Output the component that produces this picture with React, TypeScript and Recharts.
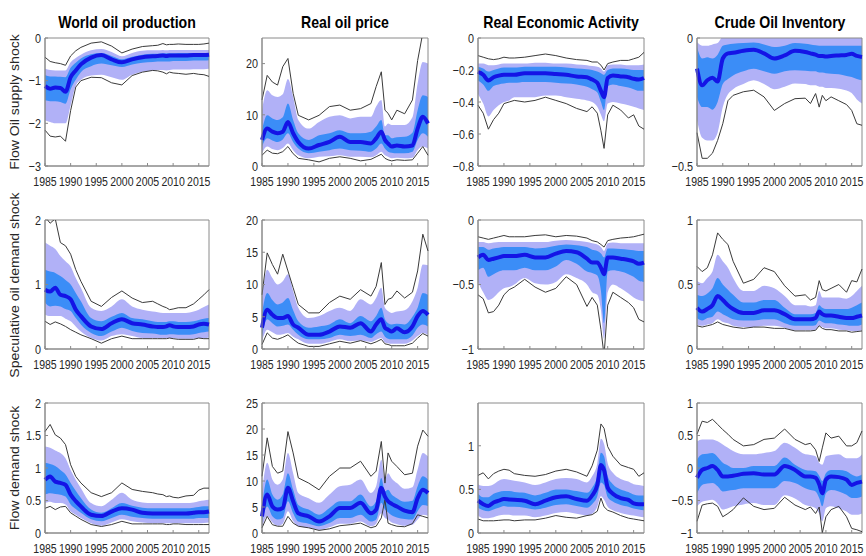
import { Area, ComposedChart, Line, ReferenceArea, XAxis, YAxis } from "recharts";

// sample dates (fractional years) shared by every panel
const years = [
  1985, 1986, 1987, 1988, 1989, 1990, 1991, 1992, 1994, 1996, 1998, 2000, 2002,
  2004, 2006, 2007, 2008, 2008.7, 2009.3, 2010, 2011, 2012.5, 2014, 2015, 2016, 2017,
];
const yearTicks = [1985, 1990, 1995, 2000, 2005, 2010, 2015];

const variables = ["World oil production", "Real oil price", "Real Economic Activity", "Crude Oil Inventory"];
const shocks = ["Flow Oil supply shock", "Speculative oil demand shock", "Flow demand shock"];

// each row: [lower bound, 90% low, 68% low, median, 68% high, 90% high, upper bound]
type Q = [number, number, number, number, number, number, number];

const supplyProduction: Q[] = [
  [-2.16, -1.93, -1.46, -1.13, -0.87, -0.72, -0.45],
  [-2.3, -1.97, -1.48, -1.19, -0.9, -0.75, -0.55],
  [-2.32, -2.0, -1.48, -1.16, -0.9, -0.76, -0.58],
  [-2.3, -2.0, -1.5, -1.17, -0.91, -0.76, -0.6],
  [-2.42, -2.0, -1.54, -1.26, -0.92, -0.76, -0.64],
  [-1.7, -1.58, -1.2, -0.92, -0.7, -0.57, -0.42],
  [-1.15, -1.12, -0.98, -0.76, -0.58, -0.47, -0.3],
  [-1.0, -0.98, -0.8, -0.62, -0.48, -0.39, -0.22],
  [-0.92, -0.88, -0.66, -0.46, -0.38, -0.29, -0.12],
  [-0.93, -0.86, -0.6, -0.4, -0.35, -0.26, -0.09],
  [-1.05, -0.92, -0.64, -0.5, -0.42, -0.33, -0.19],
  [-1.1, -0.98, -0.68, -0.57, -0.5, -0.43, -0.35],
  [-0.88, -0.86, -0.62, -0.5, -0.44, -0.35, -0.26],
  [-0.8, -0.79, -0.58, -0.45, -0.39, -0.3, -0.2],
  [-0.76, -0.76, -0.56, -0.43, -0.37, -0.29, -0.18],
  [-0.77, -0.75, -0.55, -0.42, -0.37, -0.29, -0.17],
  [-0.8, -0.75, -0.55, -0.41, -0.36, -0.28, -0.13],
  [-0.84, -0.76, -0.55, -0.42, -0.36, -0.29, -0.16],
  [-0.8, -0.75, -0.55, -0.41, -0.36, -0.28, -0.15],
  [-0.82, -0.74, -0.54, -0.41, -0.36, -0.28, -0.15],
  [-0.83, -0.74, -0.54, -0.41, -0.35, -0.28, -0.14],
  [-0.85, -0.74, -0.54, -0.41, -0.35, -0.28, -0.15],
  [-0.83, -0.73, -0.53, -0.4, -0.35, -0.28, -0.15],
  [-0.85, -0.73, -0.53, -0.4, -0.35, -0.28, -0.15],
  [-0.86, -0.73, -0.53, -0.4, -0.35, -0.28, -0.14],
  [-0.9, -0.72, -0.52, -0.39, -0.35, -0.28, -0.12],
];

const supplyPrice: Q[] = [
  [2.1, 2.5, 3.8, 5.1, 7.0, 10.9, 12.9],
  [3.1, 3.8, 5.4, 7.3, 9.9, 14.8, 17.7],
  [2.5, 3.3, 5.0, 6.7, 9.3, 13.8, 16.4],
  [2.4, 3.1, 4.7, 6.4, 9.0, 13.5, 15.8],
  [2.8, 3.5, 5.2, 6.7, 9.5, 14.0, 19.4],
  [3.8, 4.4, 6.4, 8.6, 12.2, 17.0, 21.0],
  [2.4, 3.1, 4.7, 6.4, 9.0, 13.5, 14.2],
  [1.5, 2.1, 3.4, 4.7, 6.4, 9.0, 9.9],
  [1.2, 1.5, 2.5, 3.4, 5.1, 7.3, 9.0],
  [0.8, 1.8, 2.8, 4.1, 6.0, 8.6, 9.9],
  [1.5, 1.9, 3.1, 4.7, 6.4, 9.6, 11.6],
  [1.8, 2.1, 3.4, 5.7, 7.0, 9.9, 11.9],
  [1.5, 1.8, 3.1, 4.7, 6.4, 9.3, 10.9],
  [1.0, 1.8, 3.0, 4.7, 6.4, 9.6, 11.2],
  [1.3, 1.7, 2.8, 4.4, 6.7, 9.6, 12.2],
  [1.8, 2.1, 3.4, 5.4, 7.7, 11.6, 15.5],
  [2.3, 2.8, 4.4, 6.7, 9.0, 12.9, 18.4],
  [1.5, 2.1, 3.4, 5.1, 6.0, 7.7, 10.9],
  [1.2, 1.8, 2.8, 4.4, 6.0, 8.3, 10.3],
  [1.0, 1.5, 2.6, 3.8, 5.4, 8.0, 9.0],
  [1.2, 1.6, 2.5, 4.0, 5.6, 8.0, 10.9],
  [1.1, 1.5, 2.5, 3.8, 5.7, 8.0, 10.2],
  [1.2, 1.6, 2.8, 4.0, 6.5, 9.5, 12.9],
  [2.5, 3.1, 5.1, 7.3, 10.9, 16.1, 20.6],
  [3.8, 3.8, 6.4, 9.6, 13.8, 20.3, 26],
  [2.1, 3.4, 5.7, 8.3, 13.5, 20.0, 25.5],
];

const supplyActivity: Q[] = [
  [-0.42, -0.35, -0.265, -0.21, -0.18, -0.16, -0.11],
  [-0.47, -0.41, -0.29, -0.23, -0.19, -0.16, -0.12],
  [-0.57, -0.49, -0.33, -0.265, -0.21, -0.17, -0.13],
  [-0.51, -0.45, -0.3, -0.245, -0.2, -0.17, -0.135],
  [-0.47, -0.42, -0.29, -0.235, -0.19, -0.165, -0.13],
  [-0.41, -0.4, -0.285, -0.23, -0.185, -0.16, -0.12],
  [-0.4, -0.39, -0.28, -0.23, -0.185, -0.16, -0.125],
  [-0.39, -0.37, -0.28, -0.23, -0.185, -0.16, -0.125],
  [-0.4, -0.37, -0.275, -0.22, -0.18, -0.16, -0.12],
  [-0.39, -0.37, -0.275, -0.22, -0.18, -0.155, -0.11],
  [-0.37, -0.36, -0.275, -0.22, -0.18, -0.155, -0.1],
  [-0.39, -0.36, -0.28, -0.225, -0.18, -0.16, -0.11],
  [-0.41, -0.37, -0.285, -0.23, -0.185, -0.16, -0.125],
  [-0.44, -0.38, -0.29, -0.24, -0.19, -0.165, -0.135],
  [-0.46, -0.39, -0.305, -0.245, -0.195, -0.17, -0.14],
  [-0.43, -0.4, -0.32, -0.26, -0.2, -0.175, -0.15],
  [-0.47, -0.43, -0.34, -0.28, -0.21, -0.18, -0.15],
  [-0.58, -0.48, -0.4, -0.33, -0.22, -0.19, -0.17],
  [-0.69, -0.52, -0.45, -0.37, -0.23, -0.21, -0.2],
  [-0.48, -0.41, -0.3, -0.25, -0.2, -0.17, -0.16],
  [-0.42, -0.4, -0.29, -0.235, -0.19, -0.165, -0.15],
  [-0.45, -0.41, -0.3, -0.24, -0.19, -0.165, -0.14],
  [-0.5, -0.42, -0.31, -0.245, -0.195, -0.17, -0.14],
  [-0.48, -0.43, -0.32, -0.255, -0.2, -0.17, -0.13],
  [-0.55, -0.44, -0.33, -0.26, -0.2, -0.17, -0.12],
  [-0.57, -0.45, -0.33, -0.25, -0.2, -0.165, -0.09],
];

const supplyInventory: Q[] = [
  [-0.37, -0.32, -0.23, -0.12, -0.035, -0.016, 0.05],
  [-0.47, -0.39, -0.27, -0.185, -0.08, -0.03, 0.05],
  [-0.47, -0.4, -0.27, -0.165, -0.075, -0.03, 0.05],
  [-0.45, -0.4, -0.28, -0.155, -0.08, -0.025, 0.05],
  [-0.4, -0.37, -0.25, -0.17, -0.065, -0.02, 0.05],
  [-0.335, -0.27, -0.18, -0.08, -0.03, 0.005, 0.05],
  [-0.245, -0.22, -0.16, -0.06, -0.025, 0.005, 0.05],
  [-0.224, -0.2, -0.146, -0.058, -0.022, 0.005, 0.05],
  [-0.21, -0.18, -0.13, -0.05, -0.02, 0.005, 0.05],
  [-0.204, -0.165, -0.12, -0.046, -0.018, 0.005, 0.05],
  [-0.23, -0.18, -0.13, -0.06, -0.025, 0.005, 0.05],
  [-0.283, -0.2, -0.14, -0.08, -0.035, 0.005, 0.05],
  [-0.256, -0.19, -0.13, -0.068, -0.03, 0.005, 0.05],
  [-0.237, -0.178, -0.126, -0.05, -0.02, 0.005, 0.05],
  [-0.235, -0.18, -0.128, -0.055, -0.022, 0.005, 0.05],
  [-0.256, -0.185, -0.13, -0.06, -0.025, 0.005, 0.05],
  [-0.217, -0.185, -0.13, -0.065, -0.028, 0.005, 0.05],
  [-0.27, -0.19, -0.135, -0.07, -0.03, 0.005, 0.05],
  [-0.224, -0.19, -0.135, -0.07, -0.03, 0.005, 0.05],
  [-0.245, -0.195, -0.138, -0.072, -0.03, 0.005, 0.05],
  [-0.23, -0.195, -0.14, -0.07, -0.03, 0.005, 0.05],
  [-0.245, -0.198, -0.142, -0.068, -0.03, 0.005, 0.05],
  [-0.26, -0.205, -0.148, -0.066, -0.03, 0.005, 0.05],
  [-0.283, -0.215, -0.152, -0.062, -0.03, 0.005, 0.05],
  [-0.335, -0.24, -0.16, -0.07, -0.03, 0.005, 0.05],
  [-0.341, -0.256, -0.165, -0.074, -0.03, 0.005, 0.05],
];

const speculativeProduction: Q[] = [
  [0.43, 0.53, 0.72, 0.92, 1.23, 1.65, 2.05],
  [0.38, 0.51, 0.66, 0.89, 1.2, 1.6, 1.95],
  [0.42, 0.51, 0.67, 0.95, 1.18, 1.55, 2.02],
  [0.39, 0.51, 0.66, 0.84, 1.13, 1.44, 1.65],
  [0.35, 0.47, 0.62, 0.82, 1.07, 1.36, 1.6],
  [0.3, 0.43, 0.59, 0.77, 1.0, 1.28, 1.47],
  [0.26, 0.35, 0.48, 0.61, 0.87, 1.1, 1.23],
  [0.22, 0.27, 0.38, 0.51, 0.74, 0.95, 1.05],
  [0.16, 0.17, 0.25, 0.35, 0.48, 0.64, 0.74],
  [0.09, 0.13, 0.2, 0.31, 0.43, 0.59, 0.66],
  [0.16, 0.2, 0.27, 0.4, 0.5, 0.66, 0.8],
  [0.2, 0.23, 0.33, 0.46, 0.56, 0.77, 0.9],
  [0.16, 0.2, 0.28, 0.4, 0.48, 0.66, 0.79],
  [0.16, 0.17, 0.25, 0.38, 0.46, 0.61, 0.72],
  [0.16, 0.17, 0.24, 0.35, 0.43, 0.58, 0.74],
  [0.16, 0.17, 0.23, 0.34, 0.42, 0.57, 0.7],
  [0.16, 0.17, 0.22, 0.34, 0.42, 0.56, 0.66],
  [0.16, 0.17, 0.22, 0.35, 0.42, 0.56, 0.64],
  [0.17, 0.17, 0.23, 0.37, 0.43, 0.56, 0.61],
  [0.16, 0.17, 0.23, 0.35, 0.43, 0.56, 0.62],
  [0.15, 0.16, 0.22, 0.34, 0.42, 0.56, 0.64],
  [0.15, 0.16, 0.22, 0.34, 0.42, 0.56, 0.64],
  [0.15, 0.16, 0.23, 0.35, 0.43, 0.58, 0.7],
  [0.17, 0.17, 0.25, 0.38, 0.45, 0.61, 0.77],
  [0.16, 0.17, 0.26, 0.39, 0.47, 0.65, 0.84],
  [0.16, 0.18, 0.27, 0.38, 0.48, 0.69, 0.92],
];

const speculativePrice: Q[] = [
  [0.7, 1.2, 2.0, 3.3, 5.5, 8.0, 8.4],
  [2.5, 3.0, 4.6, 6.1, 8.7, 12.3, 14.9],
  [1.7, 2.6, 4.0, 5.3, 7.6, 11.0, 13.1],
  [1.5, 2.2, 3.5, 4.8, 6.9, 10.0, 11.6],
  [1.8, 2.3, 3.6, 4.8, 7.2, 10.5, 14.7],
  [2.2, 2.5, 3.8, 5.1, 7.9, 11.6, 12.1],
  [1.5, 1.9, 3.0, 3.8, 6.0, 9.0, 9.5],
  [0.9, 1.5, 2.2, 3.3, 4.3, 6.4, 6.9],
  [0.4, 0.8, 1.5, 2.2, 3.3, 4.8, 5.6],
  [0.4, 0.8, 1.5, 2.2, 3.5, 5.1, 5.6],
  [0.8, 1.1, 1.7, 2.7, 3.8, 5.9, 7.2],
  [1.2, 1.5, 2.2, 3.5, 4.6, 6.4, 8.2],
  [0.9, 1.2, 2.0, 3.3, 4.0, 5.9, 7.7],
  [1.3, 1.3, 2.2, 4.0, 5.1, 7.7, 9.2],
  [0.8, 1.1, 1.7, 2.7, 4.3, 6.9, 8.2],
  [1.1, 1.4, 2.3, 3.8, 5.1, 7.9, 9.7],
  [1.5, 1.7, 2.7, 4.6, 6.4, 9.5, 13.4],
  [0.8, 1.0, 1.9, 3.3, 4.6, 6.4, 6.9],
  [0.7, 0.9, 1.6, 3.0, 4.0, 5.9, 7.7],
  [0.5, 0.8, 1.5, 2.7, 3.8, 5.6, 7.9],
  [0.5, 0.8, 1.5, 3.2, 3.9, 5.8, 9.0],
  [0.5, 0.8, 1.5, 2.6, 3.8, 6.0, 7.9],
  [0.9, 1.3, 2.1, 3.5, 5.0, 7.4, 8.8],
  [1.7, 2.0, 3.3, 5.1, 6.4, 9.5, 12.1],
  [2.4, 2.5, 3.8, 5.9, 8.7, 13.1, 17.8],
  [2.0, 2.2, 3.5, 5.3, 8.4, 13.0, 15.2],
];

const speculativeActivity: Q[] = [
  [-0.58, -0.48, -0.39, -0.29, -0.21, -0.17, -0.13],
  [-0.61, -0.56, -0.37, -0.27, -0.21, -0.17, -0.14],
  [-0.72, -0.62, -0.44, -0.31, -0.23, -0.18, -0.15],
  [-0.71, -0.6, -0.42, -0.3, -0.22, -0.175, -0.14],
  [-0.66, -0.56, -0.4, -0.29, -0.215, -0.17, -0.13],
  [-0.58, -0.53, -0.39, -0.28, -0.21, -0.17, -0.12],
  [-0.54, -0.52, -0.39, -0.28, -0.21, -0.17, -0.13],
  [-0.52, -0.5, -0.39, -0.28, -0.21, -0.17, -0.13],
  [-0.46, -0.45, -0.37, -0.27, -0.21, -0.17, -0.13],
  [-0.52, -0.49, -0.39, -0.29, -0.22, -0.17, -0.12],
  [-0.56, -0.5, -0.39, -0.29, -0.215, -0.17, -0.115],
  [-0.53, -0.48, -0.36, -0.26, -0.2, -0.16, -0.13],
  [-0.44, -0.42, -0.31, -0.24, -0.19, -0.155, -0.12],
  [-0.5, -0.45, -0.34, -0.25, -0.195, -0.16, -0.125],
  [-0.67, -0.5, -0.4, -0.3, -0.21, -0.17, -0.14],
  [-0.6, -0.56, -0.41, -0.33, -0.23, -0.18, -0.16],
  [-0.66, -0.58, -0.43, -0.33, -0.24, -0.19, -0.17],
  [-0.85, -0.7, -0.55, -0.37, -0.26, -0.21, -0.19],
  [-1.05, -0.92, -0.8, -0.42, -0.29, -0.24, -0.21],
  [-0.66, -0.56, -0.4, -0.29, -0.22, -0.18, -0.16],
  [-0.56, -0.5, -0.39, -0.29, -0.22, -0.175, -0.15],
  [-0.6, -0.53, -0.4, -0.3, -0.225, -0.18, -0.14],
  [-0.64, -0.57, -0.42, -0.31, -0.23, -0.18, -0.135],
  [-0.68, -0.6, -0.44, -0.32, -0.235, -0.18, -0.13],
  [-0.77, -0.62, -0.47, -0.34, -0.24, -0.18, -0.12],
  [-0.79, -0.63, -0.48, -0.33, -0.24, -0.18, -0.11],
];

const speculativeInventory: Q[] = [
  [0.18, 0.19, 0.24, 0.32, 0.42, 0.53, 0.64],
  [0.17, 0.18, 0.22, 0.29, 0.41, 0.51, 0.6],
  [0.18, 0.19, 0.24, 0.31, 0.43, 0.55, 0.63],
  [0.19, 0.2, 0.25, 0.34, 0.47, 0.6, 0.73],
  [0.21, 0.23, 0.29, 0.41, 0.55, 0.73, 0.9],
  [0.19, 0.21, 0.27, 0.38, 0.5, 0.68, 0.85],
  [0.18, 0.2, 0.25, 0.34, 0.46, 0.63, 0.81],
  [0.17, 0.18, 0.23, 0.31, 0.42, 0.55, 0.68],
  [0.16, 0.17, 0.22, 0.28, 0.36, 0.45, 0.51],
  [0.17, 0.17, 0.22, 0.28, 0.36, 0.45, 0.54],
  [0.17, 0.18, 0.23, 0.3, 0.38, 0.49, 0.63],
  [0.16, 0.18, 0.23, 0.3, 0.38, 0.47, 0.6],
  [0.16, 0.165, 0.2, 0.27, 0.32, 0.41, 0.49],
  [0.14, 0.145, 0.18, 0.23, 0.27, 0.34, 0.41],
  [0.14, 0.145, 0.18, 0.23, 0.27, 0.34, 0.42],
  [0.14, 0.145, 0.18, 0.23, 0.27, 0.33, 0.38],
  [0.145, 0.15, 0.185, 0.24, 0.28, 0.34, 0.4],
  [0.18, 0.18, 0.22, 0.29, 0.34, 0.45, 0.53],
  [0.16, 0.17, 0.21, 0.27, 0.32, 0.4, 0.46],
  [0.15, 0.16, 0.2, 0.26, 0.31, 0.4, 0.45],
  [0.15, 0.16, 0.2, 0.26, 0.31, 0.4, 0.47],
  [0.14, 0.15, 0.19, 0.25, 0.31, 0.4, 0.5],
  [0.14, 0.145, 0.185, 0.24, 0.31, 0.39, 0.44],
  [0.13, 0.14, 0.18, 0.24, 0.32, 0.41, 0.53],
  [0.135, 0.14, 0.18, 0.25, 0.34, 0.45, 0.52],
  [0.14, 0.145, 0.19, 0.26, 0.36, 0.49, 0.62],
];

const flowProduction: Q[] = [
  [0.38, 0.46, 0.59, 0.82, 1.08, 1.33, 1.56],
  [0.41, 0.48, 0.61, 0.87, 1.06, 1.31, 1.67],
  [0.36, 0.46, 0.6, 0.79, 1.03, 1.27, 1.51],
  [0.4, 0.46, 0.59, 0.77, 0.97, 1.23, 1.46],
  [0.41, 0.44, 0.56, 0.74, 0.9, 1.15, 1.36],
  [0.31, 0.33, 0.44, 0.59, 0.77, 0.97, 1.05],
  [0.26, 0.28, 0.37, 0.49, 0.65, 0.82, 0.87],
  [0.21, 0.23, 0.31, 0.41, 0.54, 0.69, 0.77],
  [0.13, 0.15, 0.21, 0.28, 0.36, 0.46, 0.62],
  [0.1, 0.11, 0.18, 0.26, 0.31, 0.41, 0.56],
  [0.13, 0.16, 0.23, 0.33, 0.38, 0.51, 0.62],
  [0.18, 0.21, 0.28, 0.38, 0.46, 0.62, 0.77],
  [0.14, 0.18, 0.25, 0.36, 0.42, 0.51, 0.67],
  [0.14, 0.16, 0.23, 0.31, 0.39, 0.47, 0.64],
  [0.14, 0.15, 0.22, 0.3, 0.38, 0.46, 0.62],
  [0.14, 0.15, 0.22, 0.3, 0.38, 0.46, 0.6],
  [0.14, 0.15, 0.22, 0.3, 0.38, 0.46, 0.59],
  [0.13, 0.15, 0.22, 0.3, 0.38, 0.46, 0.56],
  [0.13, 0.15, 0.22, 0.3, 0.38, 0.46, 0.57],
  [0.14, 0.15, 0.22, 0.3, 0.38, 0.46, 0.55],
  [0.14, 0.15, 0.22, 0.3, 0.38, 0.46, 0.54],
  [0.13, 0.15, 0.22, 0.3, 0.38, 0.46, 0.57],
  [0.13, 0.15, 0.22, 0.31, 0.39, 0.47, 0.58],
  [0.13, 0.15, 0.23, 0.32, 0.4, 0.49, 0.66],
  [0.13, 0.155, 0.23, 0.32, 0.41, 0.5, 0.69],
  [0.13, 0.16, 0.23, 0.33, 0.41, 0.51, 0.69],
];

const flowPrice: Q[] = [
  [1.0, 1.0, 1.9, 3.2, 5.1, 7.7, 10.9],
  [3.2, 3.2, 5.1, 7.4, 10.3, 13.5, 18.3],
  [1.6, 2.0, 3.2, 5.1, 7.4, 10.3, 12.8],
  [1.3, 1.4, 2.6, 4.5, 6.4, 9.3, 11.5],
  [1.3, 1.8, 2.9, 4.8, 7.4, 10.3, 11.9],
  [3.2, 4.2, 6.1, 8.7, 11.5, 15.4, 19.5],
  [1.9, 2.3, 3.8, 6.1, 8.3, 11.5, 15.4],
  [1.3, 1.3, 2.2, 3.8, 5.4, 7.7, 10.6],
  [1.0, 1.0, 1.8, 3.2, 4.5, 6.7, 9.6],
  [0.5, 0.6, 1.3, 2.2, 3.5, 5.8, 8.3],
  [0.8, 1.1, 1.9, 3.2, 4.8, 7.4, 10.9],
  [1.4, 1.8, 2.9, 4.8, 6.1, 9.0, 12.5],
  [1.6, 1.8, 2.9, 4.8, 6.1, 9.3, 12.5],
  [1.9, 2.2, 3.5, 5.8, 7.4, 10.3, 13.8],
  [1.0, 1.3, 2.2, 3.8, 5.1, 7.7, 10.9],
  [1.3, 1.8, 2.6, 4.5, 6.1, 9.0, 11.9],
  [2.9, 3.8, 5.8, 8.7, 10.6, 14.1, 17.6],
  [6.4, 2.9, 4.5, 7.0, 8.0, 10.3, 9.6],
  [1.9, 2.6, 4.0, 6.1, 8.3, 11.5, 15.4],
  [1.6, 2.0, 3.4, 5.6, 7.4, 10.5, 13.8],
  [1.3, 1.7, 3.0, 5.1, 6.7, 9.6, 12.8],
  [1.2, 1.4, 2.7, 4.3, 6.0, 8.5, 11.2],
  [1.8, 1.6, 2.6, 4.0, 6.2, 8.8, 11.5],
  [3.5, 2.6, 4.2, 6.7, 9.0, 12.2, 16.7],
  [3.2, 3.5, 5.4, 8.3, 10.9, 15.4, 19.8],
  [2.9, 3.3, 5.2, 7.7, 10.3, 14.7, 18.6],
];

const flowActivity: Q[] = [
  [0.16, 0.2, 0.29, 0.37, 0.45, 0.56, 0.66],
  [0.14, 0.17, 0.26, 0.33, 0.41, 0.54, 0.69],
  [0.14, 0.17, 0.25, 0.31, 0.41, 0.54, 0.62],
  [0.14, 0.18, 0.27, 0.35, 0.45, 0.56, 0.68],
  [0.145, 0.2, 0.29, 0.37, 0.47, 0.6, 0.71],
  [0.15, 0.21, 0.31, 0.39, 0.48, 0.62, 0.73],
  [0.15, 0.21, 0.3, 0.385, 0.48, 0.61, 0.72],
  [0.14, 0.2, 0.3, 0.38, 0.47, 0.6, 0.68],
  [0.15, 0.2, 0.29, 0.37, 0.46, 0.58, 0.66],
  [0.15, 0.18, 0.27, 0.33, 0.43, 0.55, 0.65],
  [0.17, 0.2, 0.29, 0.37, 0.46, 0.58, 0.67],
  [0.2, 0.23, 0.32, 0.41, 0.5, 0.62, 0.71],
  [0.18, 0.24, 0.33, 0.42, 0.5, 0.63, 0.73],
  [0.17, 0.22, 0.31, 0.39, 0.48, 0.62, 0.7],
  [0.2, 0.2, 0.29, 0.37, 0.46, 0.58, 0.65],
  [0.21, 0.22, 0.33, 0.43, 0.52, 0.65, 0.77],
  [0.25, 0.3, 0.42, 0.55, 0.66, 0.8, 0.95],
  [0.4, 0.42, 0.58, 0.78, 0.92, 1.08, 1.25],
  [0.3, 0.38, 0.55, 0.72, 0.88, 1.02, 1.2],
  [0.26, 0.3, 0.41, 0.52, 0.65, 0.8, 0.99],
  [0.24, 0.26, 0.36, 0.45, 0.56, 0.69, 0.88],
  [0.2, 0.23, 0.32, 0.4, 0.5, 0.62, 0.78],
  [0.17, 0.21, 0.3, 0.38, 0.47, 0.59, 0.75],
  [0.16, 0.2, 0.28, 0.34, 0.44, 0.56, 0.73],
  [0.15, 0.19, 0.27, 0.33, 0.43, 0.55, 0.65],
  [0.14, 0.18, 0.26, 0.33, 0.43, 0.54, 0.69],
];

const flowInventory: Q[] = [
  [-0.82, -0.59, -0.39, -0.15, 0.13, 0.41, 0.52],
  [-0.57, -0.52, -0.26, -0.03, 0.21, 0.44, 0.72],
  [-0.55, -0.5, -0.24, 0.0, 0.22, 0.44, 0.7],
  [-0.54, -0.49, -0.23, 0.03, 0.23, 0.44, 0.75],
  [-0.59, -0.55, -0.28, -0.03, 0.17, 0.41, 0.67],
  [-0.75, -0.64, -0.36, -0.13, 0.08, 0.36, 0.59],
  [-0.7, -0.62, -0.35, -0.13, 0.04, 0.31, 0.52],
  [-0.64, -0.59, -0.34, -0.12, 0.0, 0.26, 0.44],
  [-0.46, -0.56, -0.31, -0.09, 0.0, 0.21, 0.34],
  [-0.59, -0.54, -0.31, -0.08, 0.03, 0.21, 0.36],
  [-0.64, -0.57, -0.31, -0.1, 0.03, 0.23, 0.44],
  [-0.62, -0.57, -0.31, -0.1, 0.03, 0.26, 0.46],
  [-0.45, -0.42, -0.2, 0.03, 0.16, 0.39, 0.6],
  [-0.57, -0.47, -0.23, -0.03, 0.05, 0.31, 0.44],
  [-0.64, -0.57, -0.31, -0.13, -0.03, 0.21, 0.36],
  [-0.6, -0.59, -0.34, -0.13, -0.04, 0.2, 0.38],
  [-0.7, -0.62, -0.36, -0.15, -0.05, 0.18, 0.28],
  [-0.6, -0.7, -0.46, -0.25, -0.12, 0.08, 0.1],
  [-1.0, -0.82, -0.59, -0.39, -0.2, 0.05, 0.31],
  [-0.75, -0.62, -0.39, -0.18, -0.08, 0.18, 0.54],
  [-0.64, -0.59, -0.34, -0.13, -0.03, 0.2, 0.46],
  [-0.59, -0.62, -0.36, -0.14, -0.03, 0.21, 0.49],
  [-0.75, -0.67, -0.41, -0.18, -0.05, 0.15, 0.34],
  [-0.93, -0.72, -0.46, -0.26, -0.1, 0.15, 0.34],
  [-0.95, -0.72, -0.46, -0.23, -0.13, 0.15, 0.39],
  [-0.98, -0.7, -0.44, -0.21, -0.1, 0.21, 0.57],
];

const supplyTicks = [[-3, -2, -1, 0], [0, 10, 20], [-0.8, -0.6, -0.4, -0.2, 0], [-0.5, 0]];
const speculativeTicks = [[0, 1, 2], [0, 5, 10, 15, 20], [-1, -0.5, 0], [0, 0.5, 1]];
const flowTicks = [[0, 0.5, 1, 1.5, 2], [0, 5, 10, 15, 20, 25], [0, 0.5, 1], [-1, -0.5, 0, 0.5, 1]];

const supplyLimits = [[-3, 0], [0, 25], [-0.8, 0], [-0.5, 0]];
const speculativeLimits = [[0, 2], [0, 20], [-1, 0], [0, 1]];
const flowLimits = [[0, 2], [0, 25], [0, 1.49], [-1, 1]];

const rowsOfPanels = [
  { panels: [supplyProduction, supplyPrice, supplyActivity, supplyInventory], ticks: supplyTicks, limits: supplyLimits },
  { panels: [speculativeProduction, speculativePrice, speculativeActivity, speculativeInventory], ticks: speculativeTicks, limits: speculativeLimits },
  { panels: [flowProduction, flowPrice, flowActivity, flowInventory], ticks: flowTicks, limits: flowLimits },
];

// plot-area boxes on the page
const COL_X = [45, 262, 478, 697];
const COL_W = [164, 166, 166, 165];
const ROW_Y = [38, 220, 403];
const ROW_H = [128, 129, 130];
const AXIS_W = 40;
const AXIS_H = 26;
const PAD_TOP = 10;
const PAD_RIGHT = 4;

const FONT = "'Liberation Sans', Arial, sans-serif";
const WIDE = "#b1b1f7";
const NARROW = "#3b8df7";
const MEDIAN = "#1414e6";
const EDGE = "#3a3a3a";
const FRAME = "#8a8a8a";

// negative numbers use a real minus sign
const fmt = (v: number) => String(v).replace("-", "\u2212");

function YearTick({ x, y, payload }: any) {
  return (
    <text transform={`translate(${x} ${y}) scale(0.78 1)`} textAnchor="middle" dy="0.71em" fontSize={13.5} fill="#262626" fontFamily={FONT}>
      {payload.value}
    </text>
  );
}

function ValueTick({ x, y, payload }: any) {
  return (
    <text transform={`translate(${x} ${y}) scale(0.8 1)`} textAnchor="end" dy="0.355em" fontSize={13.5} fill="#262626" fontFamily={FONT}>
      {fmt(payload.value)}
    </text>
  );
}

// inward tick marks along the top and right edges, no labels
const NoLabel = () => <g />;

function Panel({ rows, ticks, limits, x, y, w, h }: { rows: Q[]; ticks: number[]; limits: number[]; x: number; y: number; w: number; h: number }) {
  const data = rows.map((q, i) => ({
    year: years[i],
    lo: q[0],
    wide: [q[1], q[5]],
    narrow: [q[2], q[4]],
    median: q[3],
    hi: q[6],
  }));
  return (
    <div style={{ position: "absolute", left: x - AXIS_W, top: y - PAD_TOP }}>
      <ComposedChart width={AXIS_W + w + PAD_RIGHT} height={PAD_TOP + h + AXIS_H} data={data} margin={{ top: PAD_TOP, right: PAD_RIGHT, bottom: 0, left: 0 }}>
        <XAxis
          dataKey="year"
          type="number"
          domain={[1985, 2017]}
          ticks={yearTicks}
          interval={0}
          height={AXIS_H}
          tick={(p: any) => <YearTick {...p} />}
          tickSize={-3}
          tickMargin={13}
          stroke={FRAME}
        />
        <XAxis
          xAxisId="top"
          orientation="top"
          dataKey="year"
          type="number"
          domain={[1985, 2017]}
          ticks={yearTicks}
          interval={0}
          height={0}
          tick={NoLabel}
          tickSize={-3}
          axisLine={false}
          stroke={FRAME}
        />
        <YAxis
          type="number"
          domain={limits}
          ticks={ticks}
          interval={0}
          width={AXIS_W}
          allowDataOverflow
          tick={(p: any) => <ValueTick {...p} />}
          tickSize={-3}
          tickMargin={7}
          stroke={FRAME}
        />
        <YAxis
          yAxisId="right"
          orientation="right"
          type="number"
          domain={limits}
          ticks={ticks}
          interval={0}
          width={0}
          allowDataOverflow
          tick={NoLabel}
          tickSize={-3}
          axisLine={false}
          stroke={FRAME}
        />
        <Area type="monotone" dataKey="wide" fill={WIDE} fillOpacity={1} stroke="none" activeDot={false} isAnimationActive={false} />
        <Area type="monotone" dataKey="narrow" fill={NARROW} fillOpacity={1} stroke="none" activeDot={false} isAnimationActive={false} />
        <Line type="linear" dataKey="lo" stroke={EDGE} strokeWidth={1} dot={false} activeDot={false} isAnimationActive={false} />
        <Line type="linear" dataKey="hi" stroke={EDGE} strokeWidth={1} dot={false} activeDot={false} isAnimationActive={false} />
        <Line type="monotone" dataKey="median" stroke={MEDIAN} strokeWidth={4} dot={false} activeDot={false} isAnimationActive={false} />
        <ReferenceArea x1={1985} x2={2017} y1={limits[0]} y2={limits[1]} fill="none" stroke={FRAME} strokeWidth={1} ifOverflow="visible" />
      </ComposedChart>
    </div>
  );
}

export default function App() {
  return (
    <div style={{ position: "absolute", left: 0, top: 0, width: 866, height: 556, background: "#fff", overflow: "hidden" }}>
      {variables.map((title, c) => (
        <div
          key={title}
          style={{
            position: "absolute",
            left: COL_X[c] + COL_W[c] / 2 - 120,
            top: 14,
            width: 240,
            textAlign: "center",
            fontFamily: FONT,
            fontWeight: 700,
            fontSize: 17,
            lineHeight: "17px",
            color: "#000",
            transform: "scaleX(0.83)",
          }}
        >
          {title}
        </div>
      ))}
      {shocks.map((label, r) => (
        <div
          key={label}
          style={{
            position: "absolute",
            left: 15 - 110,
            top: ROW_Y[r] + ROW_H[r] / 2 - 8,
            width: 220,
            height: 16,
            textAlign: "center",
            fontFamily: FONT,
            fontSize: 14,
            lineHeight: "16px",
            color: "#262626",
            whiteSpace: "nowrap",
            transform: "rotate(-90deg) scaleY(0.85)",
          }}
        >
          {label}
        </div>
      ))}
      {rowsOfPanels.map((row, r) =>
        row.panels.map((rows, c) => (
          <Panel key={`${r}-${c}`} rows={rows} ticks={row.ticks[c]} limits={row.limits[c]} x={COL_X[c]} y={ROW_Y[r]} w={COL_W[c]} h={ROW_H[r]} />
        ))
      )}
    </div>
  );
}
